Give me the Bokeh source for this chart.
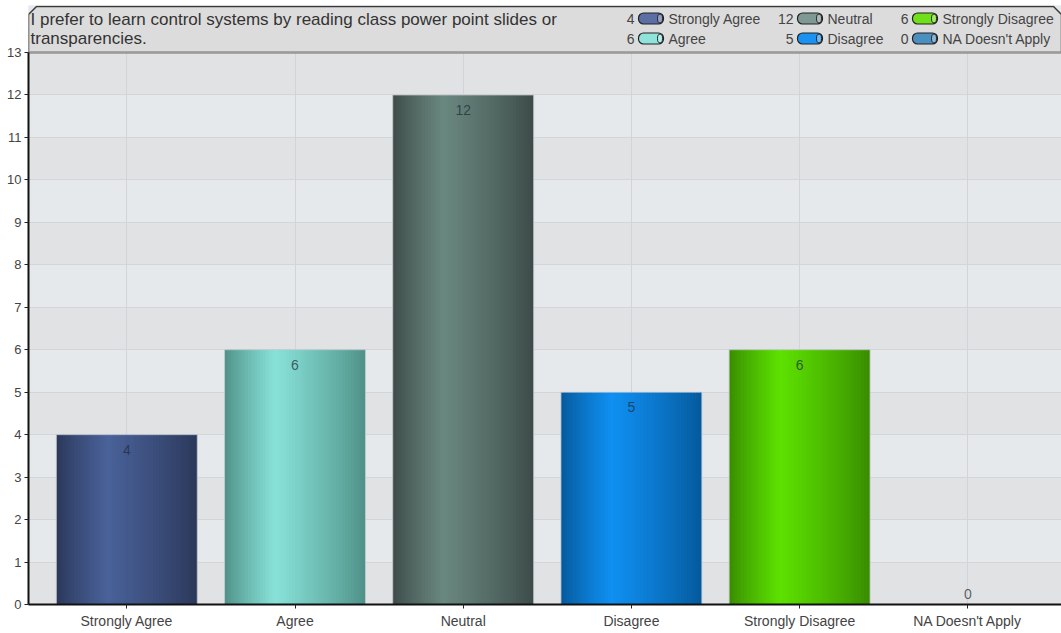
import numpy as np
from bokeh.plotting import figure
from bokeh.models import ColumnDataSource, Range1d, FixedTicker, Grid
from bokeh.core.properties import value
from bokeh.embed import file_html
from bokeh.resources import INLINE

# ---- data ----
TITLE_LINES = [
    "I prefer to learn control systems by reading class power point slides or",
    "transparencies.",
]
CATEGORIES = ["Strongly Agree", "Agree", "Neutral", "Disagree",
              "Strongly Disagree", "NA Doesn't Apply"]
COUNTS = [4, 6, 12, 5, 6, 0]
Y_TICKS = list(range(0, 14))

# ---- styling ----
FONT = "Liberation Sans"
EDGE = ["#2a3758", "#4e8f86", "#3c4a47", "#05589a", "#388a00", "#2f6a90"]
PEAK = ["#4a629a", "#88e2d8", "#6a8880", "#1090f2", "#5de200", "#4d95c5"]
SWATCH = ["#5b6fa5", "#8fe3da", "#7e9893", "#1b92f2", "#6fe01a", "#4b8fbe"]

W, H = 1061, 633
LEFT, RIGHT, TOP, BOTTOM = 28, 0, 5, 29
FRAME_W = W - LEFT - RIGHT
FRAME_H = H - TOP - BOTTOM
XS, XE = -0.0844, 6.057
Y_MAX = 13
YE = 14.107
BAR_W = 0.838


def px_x(px):
    return XS + (px - LEFT) / FRAME_W * (XE - XS)


def px_y(py):
    return (H - BOTTOM - py) / FRAME_H * YE


def hex_rgb(c):
    c = c.lstrip("#")
    return np.array([int(c[i:i + 2], 16) for i in (0, 2, 4)], dtype=float)


def rgb_hex(a):
    a = np.clip(np.round(a), 0, 255).astype(int)
    return "#%02x%02x%02x" % tuple(a)


centers = np.arange(len(CATEGORIES)) + 0.5

p = figure(width=W, height=H, x_range=Range1d(XS, XE), y_range=Range1d(0, YE),
           output_backend="svg", toolbar_location=None,
           min_border_left=LEFT, min_border_right=RIGHT,
           min_border_top=TOP, min_border_bottom=BOTTOM)
p.outline_line_color = None
p.background_fill_color = "#e1e2e4"
p.border_fill_color = "white"

# grid: alternating horizontal bands, drawn before the vertical lines
p.xgrid.ticker = FixedTicker(ticks=list(centers))
p.xgrid.grid_line_color = "#d2d4d7"
p.ygrid.ticker = FixedTicker(ticks=Y_TICKS)
p.ygrid.grid_line_color = "#d3d5d8"
p.ygrid.band_fill_color = "#e6e9ec"
p.ygrid.band_fill_alpha = 1.0
grids = [r for r in p.center if isinstance(r, Grid)]
others = [r for r in p.center if not isinstance(r, Grid)]
p.center = sorted(grids, key=lambda g: 0 if g.dimension == 1 else 1) + others

# axes
p.yaxis.ticker = FixedTicker(ticks=Y_TICKS)
p.yaxis.bounds = (0, Y_MAX)
p.xaxis.ticker = FixedTicker(ticks=list(centers))
p.xaxis.major_label_overrides = {float(c): n for c, n in zip(centers, CATEGORIES)}
for ax in (p.xaxis, p.yaxis):
    ax.axis_line_color = "#111111"
    ax.axis_line_width = 2
    ax.major_tick_line_color = "#222222"
    ax.major_tick_out = 4
    ax.major_tick_in = 0
    ax.minor_tick_line_color = None
    ax.major_label_text_font = FONT
    ax.major_label_text_color = "#444444"
p.yaxis.major_label_text_font_size = "13px"
p.xaxis.major_label_text_font_size = "14px"
p.yaxis.major_label_standoff = 3
p.xaxis.major_label_standoff = 4

# bars with a horizontal cylinder-like shading, built from thin strips
N = 48
strips = dict(left=[], right=[], top=[], color=[])
for c, v, e, pk in zip(centers, COUNTS, EDGE, PEAK):
    L = c - BAR_W / 2
    R = c + BAR_W / 2
    ce, cp = hex_rgb(e), hex_rgb(pk)
    for k in range(N):
        t = (k + 0.5) / N
        f = t / 0.36 if t < 0.36 else (1 - t) / 0.64
        f = f ** 0.85
        strips["left"].append(L + k * BAR_W / N)
        strips["right"].append(min(L + (k + 1.6) * BAR_W / N, R))
        strips["top"].append(v)
        strips["color"].append(rgb_hex(ce + (cp - ce) * f))
p.quad(left="left", right="right", top="top", bottom=0, fill_color="color",
       line_color=None, source=ColumnDataSource(strips))

bars = ColumnDataSource(dict(
    left=list(centers - BAR_W / 2), right=list(centers + BAR_W / 2), top=COUNTS,
    x=list(centers), label=[str(v) for v in COUNTS],
    yoff=[15 if v > 0 else -11 for v in COUNTS],
))
p.quad(left="left", right="right", top="top", bottom=0, fill_color=None,
       line_color="#c4cad2", line_alpha=0.8, line_width=1, source=bars)
p.text(x="x", y="top", text="label", y_offset="yoff", source=bars,
       text_align="center", text_baseline="middle",
       text_font=value(FONT), text_font_size="14px",
       text_color="#1e2a38", text_alpha=0.72)

# header panel holding the question and the legend
cx = px_x(36) - px_x(28)
cy = px_y(6) - px_y(14)
ht = px_y(6)
p.patch(x=[XS, XS, XS + cx, XE - cx, XE, XE],
        y=[Y_MAX, ht - cy, ht, ht, ht - cy, Y_MAX],
        fill_color="#dcdcdc", line_color="#3a3a3a", line_width=1.5)
p.segment(x0=[XS], y0=[Y_MAX], x1=[XE], y1=[Y_MAX],
          line_color="#9a9a9a", line_width=2)

p.text(x=[px_x(30)] * len(TITLE_LINES), y=[px_y(19), px_y(38)],
       text=TITLE_LINES, text_align="left", text_baseline="middle",
       text_font=value(FONT), text_font_size="17px", text_color="#333333")

# legend: counts, pill swatches and category names in a 3x2 grid
col_px = [638, 638, 797, 797, 912, 912]
row_px = [18, 38, 18, 38, 18, 38]
leg = ColumnDataSource(dict(
    sx=[px_x(c + 12.5) for c in col_px],
    ex=[px_x(c + 21.5) for c in col_px],
    cx=[px_x(c - 4) for c in col_px],
    lx=[px_x(c + 30) for c in col_px],
    y=[px_y(r) for r in row_px],
    count=[str(v) for v in COUNTS],
    name=CATEGORIES,
    color=SWATCH,
))
p.rect(x="sx", y="y", width=25, height=11, width_units="screen",
       height_units="screen", fill_color="color", line_color="#222222",
       line_width=1.2, border_radius=5, source=leg)
p.ellipse(x="ex", y="y", width=5, height=9, width_units="screen",
          height_units="screen", fill_color="white", fill_alpha=0.35,
          line_color="#222222", line_width=1, source=leg)
p.text(x="cx", y="y", text="count", source=leg, text_align="right",
       text_baseline="middle", text_font=value(FONT), text_font_size="14px",
       text_color="#444444")
p.text(x="lx", y="y", text="name", source=leg, text_align="left",
       text_baseline="middle", text_font=value(FONT), text_font_size="14px",
       text_color="#444444")

open("out.html", "w").write(file_html(p, INLINE))
